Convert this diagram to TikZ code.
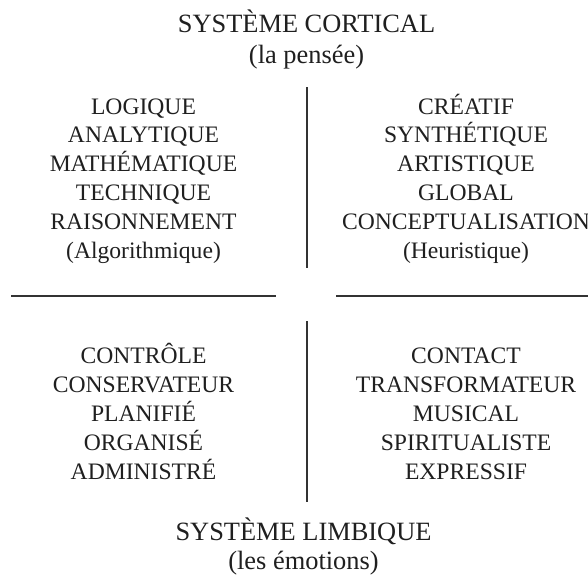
\documentclass[tikz,border=0pt]{standalone}
\usepackage{fontspec}
\setmainfont{Liberation Serif}
\begin{document}
\begin{tikzpicture}[x=1pt,y=-1pt,
  titletext/.style={anchor=base,inner sep=0pt,font=\fontsize{26.4}{30}\selectfont,text=black!88},
  itemtext/.style={anchor=base,inner sep=0pt,font=\fontsize{23.6}{29}\selectfont,text=black!88},
  rulestyle/.style={line width=1.4pt,draw=black!80}]
\useasboundingbox (0,0) rectangle (588,581);
% titles
\node[titletext] (tc1) at (306.5,32.7) {SYSTÈME CORTICAL};
\node[titletext] (tc2) at (306.5,63.3) {(la pensée)};
\node[titletext] (tl1) at (303.5,540.7) {SYSTÈME LIMBIQUE};
\node[titletext] (tl2) at (303.5,569.3) {(les émotions)};
% upper left
\foreach \w [count=\i] in {LOGIQUE,ANALYTIQUE,MATHÉMATIQUE,TECHNIQUE,RAISONNEMENT,(Algorithmique)}
  \node[itemtext] (UL\i) at (143.5,{114+28.9*(\i-1)}) {\w};
% upper right
\foreach \w [count=\i] in {CRÉATIF,SYNTHÉTIQUE,ARTISTIQUE,GLOBAL,CONCEPTUALISATION,(Heuristique)}
  \node[itemtext] (UR\i) at (466,{114+28.9*(\i-1)}) {\w};
% lower left
\foreach \w [count=\i] in {CONTRÔLE,CONSERVATEUR,PLANIFIÉ,ORGANISÉ,ADMINISTRÉ}
  \node[itemtext] (LL\i) at (143.5,{363.3+29*(\i-1)}) {\w};
% lower right
\foreach \w [count=\i] in {CONTACT,TRANSFORMATEUR,MUSICAL,SPIRITUALISTE,EXPRESSIF}
  \node[itemtext] (LR\i) at (466,{363.3+29*(\i-1)}) {\w};
% rules
\coordinate (vt1) at (306.8,87);
\coordinate (vt2) at (306.8,268);
\coordinate (vb1) at (306.8,321);
\coordinate (vb2) at (306.8,502);
\coordinate (hl1) at (11,296);
\coordinate (hl2) at (276,296);
\coordinate (hr1) at (336,296);
\coordinate (hr2) at (588,296);
\draw[rulestyle] (vt1) -- (vt2);
\draw[rulestyle] (vb1) -- (vb2);
\draw[rulestyle] (hl1) -- (hl2);
\draw[rulestyle] (hr1) -- (hr2);
\end{tikzpicture}
\end{document}
